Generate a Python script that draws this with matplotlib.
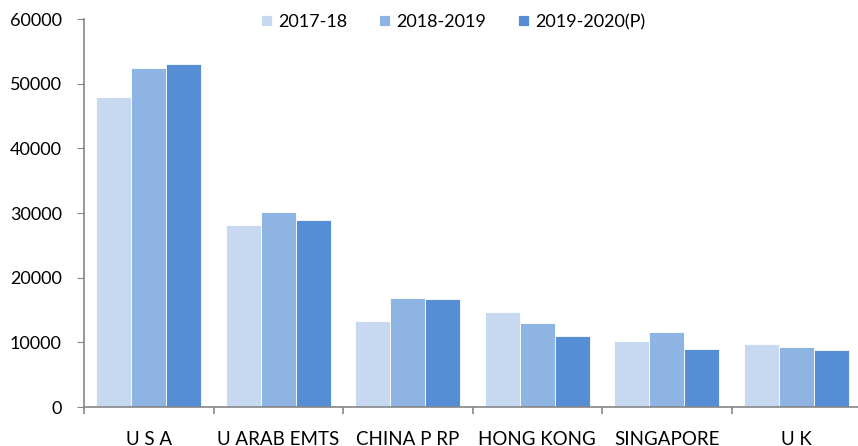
import numpy as np
import matplotlib.pyplot as plt

# data
countries = ['U S A', 'U ARAB EMTS', 'CHINA P RP', 'HONG KONG', 'SINGAPORE', 'U K']
y2017_18 = [47900, 28100, 13350, 14700, 10200, 9750]
y2018_19 = [52400, 30100, 16800, 13050, 11600, 9350]
y2019_20 = [53000, 28850, 16650, 11000, 8950, 8780]
series_names = ['2017-18', '2018-2019', '2019-2020(P)']
colors = ['#C6D9F1', '#8EB4E3', '#558ED5']

plt.rcParams['font.family'] = ['Lato', 'DejaVu Sans']

fig = plt.figure(figsize=(8.58, 4.46), dpi=100)
ax = fig.add_axes([84 / 858, 39 / 446, 777 / 858, 388 / 446])

x = np.arange(len(countries))
w = 0.27
for i, (vals, name) in enumerate(zip([y2017_18, y2018_19, y2019_20], series_names)):
    ax.bar(x + (i - 1) * w, vals, width=w, color=colors[i], label=name,
           edgecolor='white', linewidth=0.6)

ax.set_xlim(-0.5, len(countries) - 0.5)
ax.set_ylim(0, 60000)
ax.set_yticks(range(0, 60001, 10000))
ax.set_xticks(x)
ax.set_xticklabels(countries)
ax.set_xticks(np.arange(-0.5, len(countries)), minor=True)

gray = '#868686'
for s in ['top', 'right']:
    ax.spines[s].set_visible(False)
for s in ['left', 'bottom']:
    ax.spines[s].set_color(gray)
    ax.spines[s].set_linewidth(1.2)

ax.tick_params(axis='y', length=5, color=gray, labelsize=13, pad=11)
ax.tick_params(axis='x', which='major', length=0, labelsize=13.5, pad=17)
ax.tick_params(axis='x', which='minor', length=5, color=gray, width=1.2)

ax.legend(loc='upper center', bbox_to_anchor=(0.475, 1.055), ncol=3, frameon=False,
          fontsize=13, handlelength=0.6, handleheight=0.6, handletextpad=0.35,
          columnspacing=1.75)

fig.savefig('out.png', dpi=100)
